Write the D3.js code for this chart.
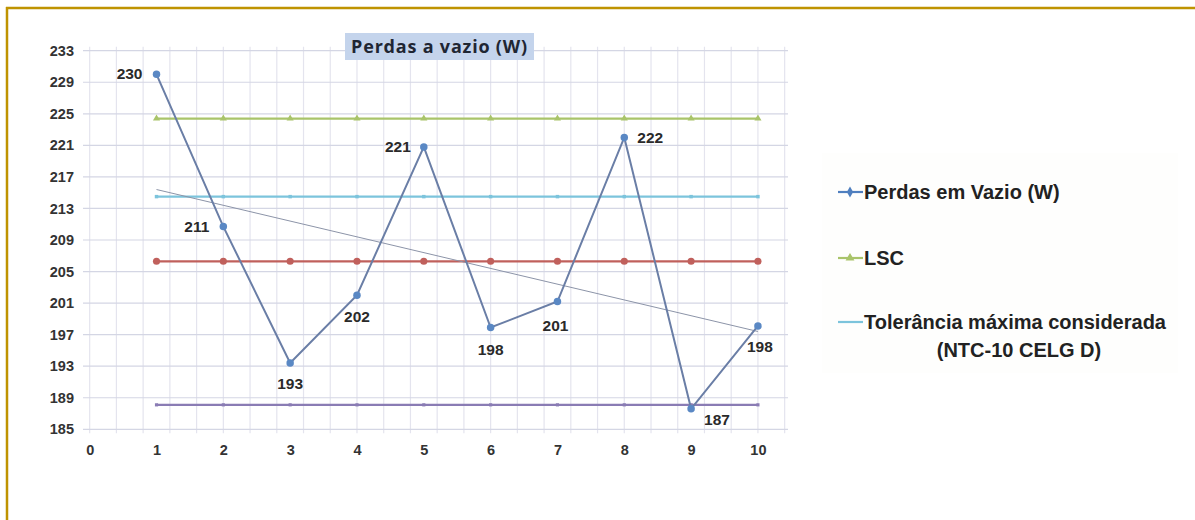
<!DOCTYPE html>
<html>
<head>
<meta charset="utf-8">
<script src="https://cdn.jsdelivr.net/npm/d3@7.9.0/dist/d3.min.js"></script>
<style>
  body { margin: 0; background: #fff; }
  svg { display: block; }
  .tick text { font-family: "Liberation Sans Narrow", "Arial Narrow", "Liberation Sans", sans-serif; font-weight: bold; font-size: 14.5px; fill: #333; }
</style>
</head>
<body>
<svg width="1195" height="520"></svg>
<script>
// values
const xs = [1, 2, 3, 4, 5, 6, 7, 8, 9, 10];
const perdas = [230.0, 210.7, 193.4, 202.0, 220.8, 197.9, 201.2, 222.0, 187.6, 198.1];
const perdasLabels = ['230', '211', '193', '202', '221', '198', '201', '222', '187', '198'];
const lsc = [224.4, 224.4, 224.4, 224.4, 224.4, 224.4, 224.4, 224.4, 224.4, 224.4];
const tolerancia = [214.5, 214.5, 214.5, 214.5, 214.5, 214.5, 214.5, 214.5, 214.5, 214.5];
const media = [206.3, 206.3, 206.3, 206.3, 206.3, 206.3, 206.3, 206.3, 206.3, 206.3];
const lic = [188.1, 188.1, 188.1, 188.1, 188.1, 188.1, 188.1, 188.1, 188.1, 188.1];
const trendX = [1, 10];
const trendY = [215.4, 197.4];
const yTicks = [185, 189, 193, 197, 201, 205, 209, 213, 217, 221, 225, 229, 233];
const xTicks = [0, 1, 2, 3, 4, 5, 6, 7, 8, 9, 10];
const legendItems = ['Perdas em Vazio (W)', 'LSC', 'Tolerância máxima considerada'];

const svg = d3.select('svg');
const narrow = '"Liberation Sans Narrow", "Arial Narrow", "Liberation Sans", sans-serif';

// frame
svg.append('line').attr('x1', 6).attr('x2', 1195).attr('y1', 8).attr('y2', 8)
  .attr('stroke', '#bf9300').attr('stroke-width', 2.5);
svg.append('line').attr('x1', 7).attr('x2', 7).attr('y1', 7).attr('y2', 520)
  .attr('stroke', '#bf9300').attr('stroke-width', 2.5);

let x = d3.scaleLinear().domain([-0.1, 10.45]).range([83, 788]);
let y = d3.scaleLinear().domain([185, 233]).range([429.3, 50.7]);

// grid
let g = svg.append('g');
g.selectAll('.vg').data(d3.range(0, 10.5, 0.4)).join('line')
  .attr('x1', (d) => x(d)).attr('x2', (d) => x(d))
  .attr('y1', y(233) - 4).attr('y2', y(185) + 4)
  .attr('stroke', '#e4e4ee').attr('stroke-width', 1.2);
g.selectAll('.hg').data(yTicks).join('line')
  .attr('x1', x(-0.1)).attr('x2', x(10.45))
  .attr('y1', (d) => y(d)).attr('y2', (d) => y(d))
  .attr('stroke', '#d4d6e4').attr('stroke-width', 1.2);

// axes
let yAxis = svg.append('g').attr('transform', 'translate(76,0)')
  .call(d3.axisLeft(y).tickValues(yTicks).tickSize(0).tickPadding(2));
yAxis.select('.domain').remove();
let xAxis = svg.append('g').attr('transform', 'translate(0,445)')
  .call(d3.axisBottom(x).tickValues(xTicks).tickSize(0).tickPadding(0));
xAxis.select('.domain').remove();

let line = d3.line().x((d) => x(d[0])).y((d) => y(d[1]));

function flatSeries(vals, color, marker) {
  let pts = xs.map((v, i) => [v, vals[i]]);
  svg.append('path').attr('d', line(pts)).attr('fill', 'none')
    .attr('stroke', color).attr('stroke-width', 2.2);
  svg.append('g').selectAll('path').data(pts).join('path')
    .attr('transform', (d) => `translate(${x(d[0])},${y(d[1])})`)
    .attr('d', d3.symbol().type(marker.type).size(marker.size))
    .attr('fill', color);
}

flatSeries(lsc, '#a9c46a', { type: d3.symbolTriangle, size: 22 });
flatSeries(tolerancia, '#7cc4dc', { type: d3.symbolSquare, size: 12 });
flatSeries(media, '#c0605c', { type: d3.symbolCircle, size: 40 });
flatSeries(lic, '#8a7cb4', { type: d3.symbolSquare, size: 10 });

// trend line
svg.append('path').attr('d', line(trendX.map((v, i) => [v, trendY[i]])))
  .attr('fill', 'none').attr('stroke', '#8c94a8').attr('stroke-width', 1);

// main series
let perdasPts = xs.map((v, i) => [v, perdas[i]]);
svg.append('path').attr('d', line(perdasPts)).attr('fill', 'none')
  .attr('stroke', '#6a7ea6').attr('stroke-width', 2);
svg.append('g').selectAll('path').data(perdasPts).join('path')
  .attr('transform', (d) => `translate(${x(d[0])},${y(d[1])})`)
  .attr('d', d3.symbol().type(d3.symbolCircle).size(44))
  .attr('fill', '#5a88c4');

// data labels: [dx, dy, anchor]
const labelPos = [[-14, 5, 'end'], [-14, 5, 'end'], [0, 26, 'middle'], [0, 27, 'middle'], [-13, 5, 'end'],
  [0, 27, 'middle'], [-2, 29, 'middle'], [13, 6, 'start'], [13, 16, 'start'], [2, 26, 'middle']];
svg.append('g').selectAll('text').data(perdasPts).join('text')
  .attr('x', (d, i) => x(d[0]) + labelPos[i][0])
  .attr('y', (d, i) => y(d[1]) + labelPos[i][1])
  .attr('text-anchor', (d, i) => labelPos[i][2])
  .attr('font-family', narrow).attr('font-weight', 'bold').attr('font-size', 15.5)
  .attr('fill', '#2a2a2a')
  .text((d, i) => perdasLabels[i]);

// title
svg.append('rect').attr('x', 345).attr('y', 33).attr('width', 189).attr('height', 27)
  .attr('fill', '#c4d4ec');
svg.append('text').attr('x', 439.5).attr('y', 53).attr('text-anchor', 'middle')
  .attr('font-family', '"Open Sans", "Liberation Sans", sans-serif').attr('font-weight', 'bold')
  .attr('font-size', 18).attr('letter-spacing', 0.8).attr('fill', '#1f2633').text('Perdas a vazio (W)');

// legend
const legendColors = ['#4f7fbf', '#a9c46a', '#7cc4dc'];
const legendY = [192, 258, 322];
let legend = svg.append('g');
legend.append('rect').attr('x', 822).attr('y', 153).attr('width', 356).attr('height', 220)
  .attr('fill', '#fefefd');
legendItems.forEach((label, i) => {
  legend.append('line').attr('x1', 838).attr('x2', 863)
    .attr('y1', legendY[i]).attr('y2', legendY[i])
    .attr('stroke', legendColors[i]).attr('stroke-width', 2.2);
  if (i < 2) {
    legend.append('path').attr('transform', `translate(850,${legendY[i]})`)
      .attr('d', d3.symbol().type(i === 0 ? d3.symbolDiamond : d3.symbolTriangle).size(34))
      .attr('fill', legendColors[i]);
  }
  legend.append('text').attr('x', 864).attr('y', legendY[i] + 7)
    .attr('font-family', narrow).attr('font-weight', 'bold').attr('font-size', 20)
    .attr('fill', '#222').text(label);
});
legend.append('text').attr('x', 1019).attr('y', 357).attr('text-anchor', 'middle')
  .attr('font-family', narrow).attr('font-weight', 'bold').attr('font-size', 20)
  .attr('fill', '#222').text('(NTC-10 CELG D)');
</script>
</body>
</html>
